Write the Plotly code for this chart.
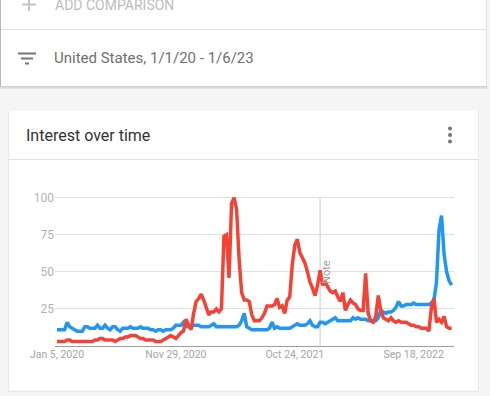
import pandas as pd
import plotly.graph_objects as go

# ---------------- data ----------------
start_date = "2020-01-05"
n_weeks = 157
dates = pd.date_range(start_date, periods=n_weeks, freq="7D")

blue_values = [
    11, 11, 11, 11, 16, 13, 12, 11, 10, 10,
    10, 13, 13, 12, 12, 12, 14, 12, 12, 14,
    12, 11, 13, 13, 11, 10, 12, 12, 12, 13,
    12, 12, 12, 13, 12, 12, 12, 11, 11, 10,
    11, 11, 10, 11, 11, 11, 12, 14, 14, 14,
    16, 13, 13, 13, 14, 14, 14, 13, 13, 13,
    13, 14, 15, 13, 13, 13, 13, 13, 13, 13,
    13, 13, 14, 17, 22, 13, 12, 11, 11, 11,
    11, 11, 11, 11, 12, 16, 12, 13, 12, 12,
    12, 12, 12, 13, 14, 15, 14, 14, 14, 15,
    17, 14, 13, 13, 16, 16, 15, 16, 17, 18,
    19, 17, 17, 17, 17, 17, 17, 19, 18, 19,
    18, 18, 18, 17, 17, 17, 17, 19, 24, 23,
    22, 23, 23, 24, 26, 30, 27, 27, 28, 28,
    28, 29, 28, 28, 28, 28, 28, 28, 29, 31,
    43, 78, 88, 62, 50, 44, 41,
]

red_values = [
    3, 3, 3, 3, 4, 4, 3, 3, 3, 3,
    3, 3, 3, 3, 3, 4, 4, 5, 5, 4,
    4, 4, 4, 3, 4, 5, 5, 6, 6, 7,
    7, 7, 6, 5, 5, 4, 4, 4, 4, 3,
    3, 3, 4, 5, 6, 7, 6, 5, 7, 9,
    10, 18, 14, 11, 22, 30, 32, 35, 31, 26,
    21, 23, 23, 25, 23, 25, 74, 75, 46, 96,
    100, 92, 58, 36, 31, 31, 30, 21, 17, 17,
    17, 19, 22, 27, 27, 27, 28, 32, 26, 27,
    22, 31, 33, 55, 68, 72, 63, 60, 56, 50,
    43, 39, 34, 41, 51, 41, 43, 40, 37, 36,
    37, 33, 30, 36, 24, 28, 31, 29, 28, 25,
    24, 24, 49, 22, 17, 16, 20, 34, 24, 19,
    18, 17, 19, 17, 16, 17, 16, 16, 16, 15,
    14, 14, 13, 13, 12, 12, 12, 10, 26, 32,
    16, 18, 16, 20, 13, 12, 12,
]

x_tick_dates = ["2020-01-05", "2020-11-29", "2021-10-24", "2022-09-18"]
x_tick_labels = ["Jan 5, 2020", "Nov 29, 2020", "Oct 24, 2021", "Sep 18, 2022"]
y_tick_values = [25, 50, 75, 100]
y_tick_labels = ["25", "50", "75", "100"]
note_date = "2022-01-02"
note_label = "Note"

title_text = "Interest over time"
filter_text = "United States, 1/1/20 - 1/6/23"
add_text = "ADD COMPARISON"

# ---------------- layout geometry ----------------
W, H = 490, 396
L, R, T, B = 55, 36, 193, 50
PLOT_W = W - L - R
PLOT_H = H - T - B

def px(x):
    return (x - L) / PLOT_W

def py(y):
    return (H - B - y) / PLOT_H

BLUE = "#2196F3"
RED = "#F44336"
FONT = "Roboto, 'Open Sans', Arial, sans-serif"

fig = go.Figure()
fig.add_trace(go.Scatter(x=dates, y=blue_values, mode="lines",
                         line=dict(color=BLUE, width=3.5), hoverinfo="skip",
                         showlegend=False))
fig.add_trace(go.Scatter(x=dates, y=red_values, mode="lines",
                         line=dict(color=RED, width=3.5), hoverinfo="skip",
                         showlegend=False))

shapes = []

def rect(x0, y0, x1, y1, fill, line=None, layer="below"):
    shapes.append(dict(type="rect", xref="paper", yref="paper",
                       x0=px(x0), x1=px(x1), y0=py(y1), y1=py(y0),
                       fillcolor=fill, line=dict(width=0) if line is None else line,
                       layer=layer))

def hline(x0, x1, y, color, width=1, layer="below"):
    shapes.append(dict(type="line", xref="paper", yref="paper",
                       x0=px(x0), x1=px(x1), y0=py(y), y1=py(y),
                       line=dict(color=color, width=width), layer=layer))

def vline(x, y0, y1, color, width=1, layer="below"):
    shapes.append(dict(type="line", xref="paper", yref="paper",
                       x0=px(x), x1=px(x), y0=py(y0), y1=py(y1),
                       line=dict(color=color, width=width), layer=layer))

# top card with shadow
rect(0, 86, 488, 89, "#e6e6e6")
rect(0, 86, 487, 87.5, "#cfcfcf")
rect(0, -5, 486, 86, "#ffffff")
vline(0.5, -5, 86, "#b8b8b8")
vline(486.5, -5, 87, "#e2e2e2")
hline(1, 486, 29.5, "#e0e0e0")

# filter icon
hline(18, 36, 53.5, "#757575", 2)
hline(21, 33, 58.5, "#757575", 2)
hline(25, 29, 63.5, "#757575", 2)

# plus icon
hline(22, 36, 4.5, "#c4c4c4", 2)
vline(29, -5, 11, "#c4c4c4", 2)

# second card with shadow
rect(8, 111, 479, 392, "#e9e9e9")
rect(9, 111, 478, 390.5, "#ffffff")
hline(9, 478, 159.5, "#e0e0e0")

# menu dots
for dy in (128.5, 135, 141.5):
    shapes.append(dict(type="circle", xref="paper", yref="paper",
                       x0=px(448), x1=px(452), y0=py(dy + 2), y1=py(dy - 2),
                       fillcolor="#757575", line=dict(width=0), layer="above"))

# note line
shapes.append(dict(type="line", xref="x", yref="paper", x0=note_date, x1=note_date,
                   y0=0, y1=py(197), line=dict(color="#cccccc", width=1),
                   layer="below"))

annotations = [
    dict(text=add_text, x=px(53), y=py(4.5), xref="paper", yref="paper",
         xanchor="left", yanchor="middle", showarrow=False,
         font=dict(family=FONT, size=14, color="#bdbdbd")),
    dict(text=filter_text, x=px(52), y=py(58), xref="paper", yref="paper",
         xanchor="left", yanchor="middle", showarrow=False,
         font=dict(family=FONT, size=15, color="#6f6f6f")),
    dict(text=title_text, x=px(24), y=py(135), xref="paper", yref="paper",
         xanchor="left", yanchor="middle", showarrow=False,
         font=dict(family=FONT, size=16, color="#333333")),
    dict(text=note_label, x=note_date, y=50, xref="x", yref="y",
         xanchor="center", yanchor="middle", xshift=7, textangle=-90,
         showarrow=False, font=dict(family=FONT, size=11, color="#a0a0a0")),
]

fig.update_layout(
    width=W, height=H,
    margin=dict(l=L, r=R, t=T, b=B, pad=0),
    paper_bgcolor="#f5f5f5",
    plot_bgcolor="rgba(0,0,0,0)",
    shapes=shapes,
    annotations=annotations,
    showlegend=False,
    font=dict(family=FONT),
    xaxis=dict(
        type="date",
        range=["2019-12-30 12:00", "2023-01-07 12:00"],
        tickmode="array", tickvals=x_tick_dates, ticktext=x_tick_labels,
        showgrid=False, zeroline=False,
        showline=True, linecolor="#9e9e9e", linewidth=1,
        ticks="", ticklabelstandoff=-2,
        tickfont=dict(family=FONT, size=10.5, color="#a6a6a6"),
        fixedrange=True,
    ),
    yaxis=dict(
        range=[0, (H - B - T) / 1.483],
        tickmode="array", tickvals=y_tick_values, ticktext=y_tick_labels,
        showgrid=True, gridcolor="#e0e0e0", gridwidth=1,
        zeroline=False, showline=False, ticks="",
        tickfont=dict(family=FONT, size=12, color="#b3b3b3"),
        fixedrange=True,
    ),
)

fig.write_html(
    "out.html",
    config={"displayModeBar": False},
    post_script="document.body.style.margin='0';document.body.style.padding='0';document.body.style.overflow='hidden';",
)
